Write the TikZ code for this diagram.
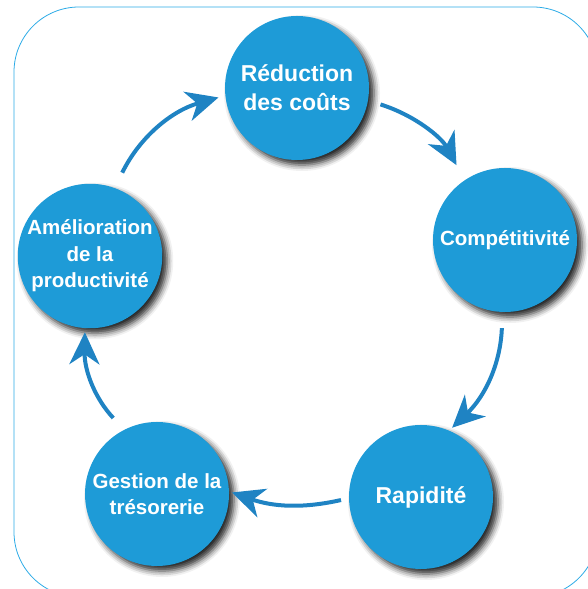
\documentclass[tikz,border=0pt]{standalone}
\usepackage{fontspec}
\setmainfont{Liberation Sans}
\usetikzlibrary{arrows.meta}
\usetikzlibrary{shadows.blur}

\definecolor{bubbleblue}{HTML}{1E9BD7}
\definecolor{arrowblue}{HTML}{1F83C3}
\definecolor{framecyan}{HTML}{2AAAE6}

\tikzset{
	bubble/.style={circle, fill=bubbleblue, minimum size=144pt, inner sep=0pt,
		text=white, align=center, font=\bfseries\fontsize{20.5}{26.5}\selectfont,
		blur shadow={shadow xshift=5pt, shadow yshift=-5pt, shadow blur radius=6pt, shadow opacity=85}},
	bigtext/.style={font=\bfseries\fontsize{23}{29}\selectfont},
	cycarrow/.style={-{Stealth[length=32pt, width=30pt, inset=10pt]}, line width=4pt,
		draw=arrowblue}
}

\begin{document}
\begin{tikzpicture}[x=1pt, y=1pt]

	\useasboundingbox (0,0) rectangle (588,589);

	%outer frame
	\draw[framecyan, line width=0.8pt, rounded corners=65pt] (14,582) rectangle (598,-8);

	%the five bubbles of the cycle
	\node[bubble, bigtext] (red) at (297,501) {Réduction\\des coûts};
	\node[bubble] (comp) at (505,349) {Compétitivité};
	\node[bubble, bigtext] (rap) at (421,92) {Rapidité};
	\node[bubble] (ges) at (157,95) {Gestion de la\\trésorerie};
	\node[bubble] (ame) at (90,333) {Amélioration\\de la\\productivité};

	%arrows round the cycle
	\draw[cycarrow, shorten <=17pt, shorten >=7pt] (ame.70) to[bend left=24] (red.186);
	\draw[cycarrow, shorten <=13pt, shorten >=17pt] (red.-10) to[bend left=22] (comp.124);
	\draw[cycarrow, shorten <=16pt, shorten >=4pt] (comp.268) to[bend left=22] (rap.67);
	\draw[cycarrow, shorten <=8pt, shorten >=3pt] (rap.181) to[bend left=16] (ges.2);
	\draw[cycarrow, shorten <=16pt, shorten >=4pt] (ges.117) to[bend left=22] (ame.266);

\end{tikzpicture}
\end{document}
